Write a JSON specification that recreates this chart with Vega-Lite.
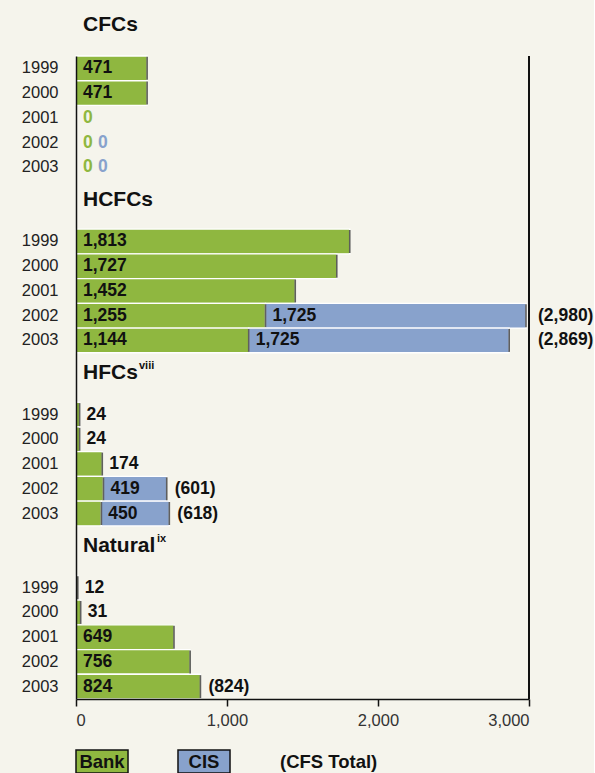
{
  "$schema": "https://vega.github.io/schema/vega-lite/v6.json",
  "background": "#f5f4ec",
  "padding": {"left": 21, "top": 14, "right": 0, "bottom": 0},
  "spacing": 51,
  "bounds": "flush",
  "config": {
    "view": {"stroke": null},
    "font": "Liberation Sans",
    "axisX": {"domainColor": "#111", "domainWidth": 1.5, "tickColor": "#111", "tickWidth": 1.5, "tickSize": 7, "labelFontSize": 16.5, "labelColor": "#333", "labelFont": "Liberation Sans", "labelFlush": true, "labelPadding": 6, "grid": false}
  },
  "datasets": {
    "rows": [
      {"row": "CFCs|1999", "bank": 471, "cis": null, "total": null, "bl": "in", "tl": null},
      {"row": "CFCs|2000", "bank": 471, "cis": null, "total": null, "bl": "in", "tl": null},
      {"row": "CFCs|2001", "bank": 0, "cis": null, "total": null, "bl": "zero", "tl": null},
      {"row": "CFCs|2002", "bank": 0, "cis": 0, "total": null, "bl": "zero", "tl": null},
      {"row": "CFCs|2003", "bank": 0, "cis": 0, "total": null, "bl": "zero", "tl": null},
      {"row": "HCFCs|1999", "bank": 1813, "cis": null, "total": null, "bl": "in", "tl": null},
      {"row": "HCFCs|2000", "bank": 1727, "cis": null, "total": null, "bl": "in", "tl": null},
      {"row": "HCFCs|2001", "bank": 1452, "cis": null, "total": null, "bl": "in", "tl": null},
      {"row": "HCFCs|2002", "bank": 1255, "cis": 1725, "total": 2980, "bl": "in", "tl": "frame"},
      {"row": "HCFCs|2003", "bank": 1144, "cis": 1725, "total": 2869, "bl": "in", "tl": "frame"},
      {"row": "HFCs|1999", "bank": 24, "cis": null, "total": null, "bl": "out", "tl": null},
      {"row": "HFCs|2000", "bank": 24, "cis": null, "total": null, "bl": "out", "tl": null},
      {"row": "HFCs|2001", "bank": 174, "cis": null, "total": null, "bl": "out", "tl": null},
      {"row": "HFCs|2002", "bank": 182, "cis": 419, "total": 601, "bl": "none", "tl": "bar"},
      {"row": "HFCs|2003", "bank": 168, "cis": 450, "total": 618, "bl": "none", "tl": "bar"},
      {"row": "Natural|1999", "bank": 12, "cis": null, "total": null, "bl": "out", "tl": null},
      {"row": "Natural|2000", "bank": 31, "cis": null, "total": null, "bl": "out", "tl": null},
      {"row": "Natural|2001", "bank": 649, "cis": null, "total": null, "bl": "in", "tl": null},
      {"row": "Natural|2002", "bank": 756, "cis": null, "total": null, "bl": "in", "tl": null},
      {"row": "Natural|2003", "bank": 824, "cis": null, "total": 824, "bl": "in", "tl": "bar"}
    ],
    "titles": [
      {"row": "sp1", "t": "HCFCs", "sup": ""},
      {"row": "sp3", "t": "HFCs", "sup": "viii"},
      {"row": "sp5", "t": "Natural", "sup": "ix"}
    ],
    "legend": [
      {"item": "Bank", "box": true},
      {"item": "CIS", "box": true},
      {"item": "(CFS Total)", "box": false}
    ]
  },
  "vconcat": [
    {
      "width": 453,
      "height": 643,
      "title": {"text": "CFCs", "anchor": "start", "frame": "group", "dx": 7, "fontSize": 21, "fontWeight": "bold", "font": "Liberation Sans", "color": "#111", "baseline": "alphabetic", "offset": 3},
      "data": {"name": "rows"},
      "encoding": {
        "y": {
          "field": "row", "type": "nominal",
          "scale": {"domain": ["CFCs|1999", "CFCs|2000", "CFCs|2001", "CFCs|2002", "CFCs|2003", "sp1", "sp2", "HCFCs|1999", "HCFCs|2000", "HCFCs|2001", "HCFCs|2002", "HCFCs|2003", "sp3", "sp4", "HFCs|1999", "HFCs|2000", "HFCs|2001", "HFCs|2002", "HFCs|2003", "sp5", "sp6", "Natural|1999", "Natural|2000", "Natural|2001", "Natural|2002", "Natural|2003"], "paddingInner": 0, "paddingOuter": 0},
          "axis": {"title": null, "domainColor": "#111", "domainWidth": 1.5, "ticks": false, "labelExpr": "indexof(datum.value, '|') > 0 ? split(datum.value, '|')[1] : ''", "labelFontSize": 16.5, "labelColor": "#222", "labelFont": "Liberation Sans", "labelPadding": 18, "zindex": 1}
        }
      },
      "layer": [
        {
          "mark": {"type": "rule", "color": "#111", "strokeWidth": 1.5},
          "encoding": {"x": {"datum": 3000, "type": "quantitative"}, "y": null}
        },
        {
          "transform": [{"filter": "datum.bank > 0"}],
          "mark": {"type": "bar", "color": "#8fb740", "stroke": "#ffffff", "strokeWidth": 1.3},
          "encoding": {"x": {"field": "bank", "type": "quantitative", "scale": {"domain": [0, 3000], "nice": false}, "axis": {"title": null, "values": [0, 1000, 2000, 3000], "format": ",d", "zindex": 1}}}
        },
        {
          "transform": [{"filter": "datum.cis > 0"}],
          "mark": {"type": "bar", "color": "#88a2cc", "stroke": "#ffffff", "strokeWidth": 1.3},
          "encoding": {"x": {"field": "bank", "type": "quantitative", "axis": {"title": null}}, "x2": {"field": "total"}}
        },
        {
          "transform": [{"filter": "datum.bank > 0"}],
          "mark": {"type": "tick", "orient": "vertical", "color": "#1d1d1b", "thickness": 1.6, "size": 23},
          "encoding": {"x": {"field": "bank", "type": "quantitative", "axis": {"title": null}}}
        },
        {
          "transform": [{"filter": "datum.cis > 0"}],
          "mark": {"type": "tick", "orient": "vertical", "color": "#1d1d1b", "thickness": 1.6, "size": 23},
          "encoding": {"x": {"field": "total", "type": "quantitative", "axis": {"title": null}}}
        },
        {
          "transform": [{"filter": "datum.bl == 'in'"}],
          "mark": {"type": "text", "align": "left", "baseline": "middle", "dx": 7, "fontSize": 17.5, "fontWeight": "bold", "color": "#111"},
          "encoding": {"x": {"datum": 0, "type": "quantitative"}, "text": {"field": "bank", "type": "quantitative", "format": ","}}
        },
        {
          "transform": [{"filter": "datum.bl == 'out'"}],
          "mark": {"type": "text", "align": "left", "baseline": "middle", "dx": 7, "fontSize": 17.5, "fontWeight": "bold", "color": "#111"},
          "encoding": {"x": {"field": "bank", "type": "quantitative", "axis": {"title": null}}, "text": {"field": "bank", "type": "quantitative", "format": ","}}
        },
        {
          "transform": [{"filter": "datum.bl == 'zero'"}],
          "mark": {"type": "text", "align": "left", "baseline": "middle", "dx": 7, "fontSize": 17.5, "fontWeight": "bold", "color": "#8fb740"},
          "encoding": {"x": {"datum": 0, "type": "quantitative"}, "text": {"field": "bank", "type": "quantitative", "format": ","}}
        },
        {
          "transform": [{"filter": "datum.cis > 0"}],
          "mark": {"type": "text", "align": "left", "baseline": "middle", "dx": 7, "fontSize": 17.5, "fontWeight": "bold", "color": "#111"},
          "encoding": {"x": {"field": "bank", "type": "quantitative", "axis": {"title": null}}, "text": {"field": "cis", "type": "quantitative", "format": ","}}
        },
        {
          "transform": [{"filter": "datum.cis === 0"}],
          "mark": {"type": "text", "align": "left", "baseline": "middle", "dx": 22, "fontSize": 17.5, "fontWeight": "bold", "color": "#88a2cc"},
          "encoding": {"x": {"datum": 0, "type": "quantitative"}, "text": {"field": "cis", "type": "quantitative", "format": ","}}
        },
        {
          "transform": [{"filter": "datum.tl == 'frame'"}, {"calculate": "'(' + format(datum.total, ',') + ')'", "as": "tt"}],
          "mark": {"type": "text", "align": "left", "baseline": "middle", "dx": 9, "fontSize": 17.5, "fontWeight": "bold", "color": "#111"},
          "encoding": {"x": {"datum": 3000, "type": "quantitative"}, "text": {"field": "tt", "type": "nominal"}}
        },
        {
          "transform": [{"filter": "datum.tl == 'bar'"}, {"calculate": "'(' + format(datum.total, ',') + ')'", "as": "tt"}],
          "mark": {"type": "text", "align": "left", "baseline": "middle", "dx": 8, "fontSize": 17.5, "fontWeight": "bold", "color": "#111"},
          "encoding": {"x": {"field": "total", "type": "quantitative", "axis": {"title": null}}, "text": {"field": "tt", "type": "nominal"}}
        },
        {
          "data": {"name": "titles"},
          "mark": {"type": "text", "align": "left", "baseline": "middle", "dx": 7, "dy": 8, "fontSize": 21, "fontWeight": "bold", "color": "#111"},
          "encoding": {"x": {"datum": 0, "type": "quantitative"}, "text": {"field": "t", "type": "nominal"}}
        },
        {
          "data": {"name": "titles"},
          "transform": [{"filter": "datum.t == 'HFCs'"}],
          "mark": {"type": "text", "align": "left", "baseline": "middle", "dx": 63, "dy": 1, "fontSize": 11, "fontWeight": "bold", "color": "#111"},
          "encoding": {"x": {"datum": 0, "type": "quantitative"}, "text": {"field": "sup", "type": "nominal"}}
        },
        {
          "data": {"name": "titles"},
          "transform": [{"filter": "datum.t == 'Natural'"}],
          "mark": {"type": "text", "align": "left", "baseline": "middle", "dx": 81, "dy": 1, "fontSize": 11, "fontWeight": "bold", "color": "#111"},
          "encoding": {"x": {"datum": 0, "type": "quantitative"}, "text": {"field": "sup", "type": "nominal"}}
        }
      ]
    },
    {
      "width": 256,
      "height": 23,
      "data": {"name": "legend"},
      "encoding": {
        "x": {"field": "item", "type": "nominal", "scale": {"domain": ["Bank", "CIS", "(CFS Total)"], "paddingInner": 0.49, "paddingOuter": 0}, "axis": null}
      },
      "layer": [
        {
          "transform": [{"filter": "datum.box"}],
          "mark": {"type": "bar", "stroke": "#111", "strokeWidth": 1.5},
          "encoding": {"color": {"field": "item", "type": "nominal", "scale": {"domain": ["Bank", "CIS"], "range": ["#8fb740", "#88a2cc"]}, "legend": null}}
        },
        {
          "transform": [{"filter": "datum.box"}],
          "mark": {"type": "text", "align": "center", "baseline": "middle", "fontSize": 18.5, "fontWeight": "bold", "color": "#111"},
          "encoding": {"text": {"field": "item", "type": "nominal"}}
        },
        {
          "transform": [{"filter": "!datum.box"}],
          "mark": {"type": "text", "align": "left", "baseline": "middle", "fontSize": 18.5, "fontWeight": "bold", "color": "#111"},
          "encoding": {"x": {"field": "item", "type": "nominal", "bandPosition": 0}, "text": {"field": "item", "type": "nominal"}}
        }
      ]
    }
  ]
}
